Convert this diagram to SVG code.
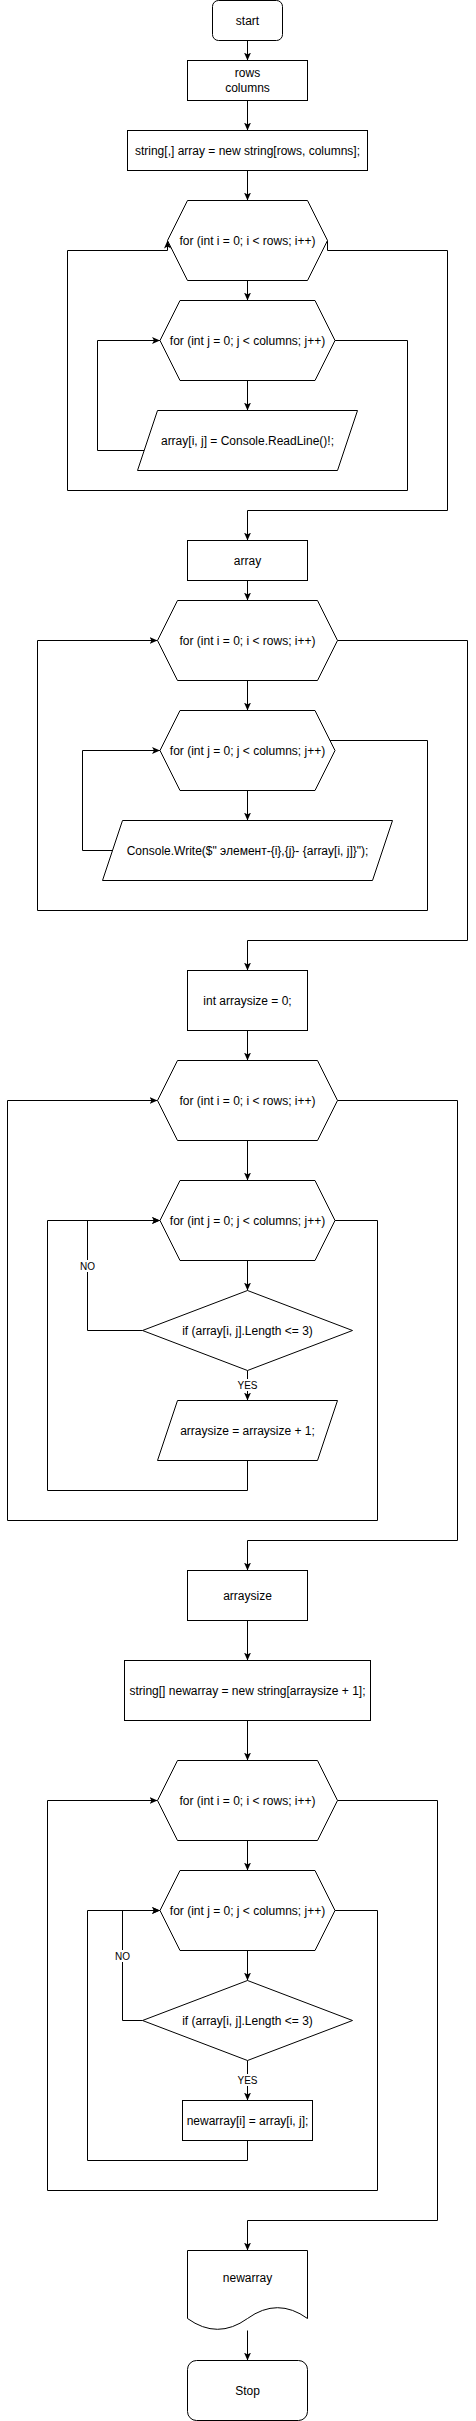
<svg xmlns="http://www.w3.org/2000/svg" width="476" height="2421" viewBox="0 0 476 2421">
<style>
.s{fill:#fff;stroke:#000;stroke-width:1}
.t{font-family:"Liberation Sans",Arial,Helvetica,sans-serif;font-size:12px;fill:#000;text-anchor:middle}
.l{font-family:"Liberation Sans",Arial,Helvetica,sans-serif;font-size:10px;fill:#000;text-anchor:middle}
.c{fill:none;stroke:#000;stroke-width:1;marker-end:url(#a)}
.n{fill:none;stroke:#000;stroke-width:1}
.lb{fill:#fff;stroke:none}
</style>
<defs>
<marker id="a" markerUnits="userSpaceOnUse" viewBox="0 0 8 8" markerWidth="8" markerHeight="8" refX="8" refY="4" orient="auto">
<path d="M0,0.5 L8,4 L0,7.5 L2,4 Z" fill="#000"/>
</marker>
</defs>
<rect width="476" height="2421" fill="#fff"/>
<g id="connectors">
<path class="c" d="M247.5,40.5 V60.5"/>
<path class="c" d="M247.5,100.5 V130.5"/>
<path class="c" d="M247.5,170.5 V200.5"/>
<path class="c" d="M247.5,280.5 V300.5"/>
<path class="c" d="M247.5,380.5 V410.5"/>
<path class="c" d="M144.3,450.5 H97.5 V340.5 H160"/>
<path class="c" d="M335,340.5 H407.5 V490.5 H67.5 V250.5 H167.5 V240.5"/>
<path class="c" d="M327.5,240.5 V250.5 H447.5 V510.5 H247.5 V540.5"/>
<path class="c" d="M247.5,580.5 V600.5"/>
<path class="c" d="M247.5,680.5 V710.5"/>
<path class="c" d="M247.5,790.5 V820.5"/>
<path class="c" d="M112.5,850.5 H82.5 V750.5 H160"/>
<path class="c" d="M330,740.5 H427.5 V910.5 H37.5 V640.5 H157.5"/>
<path class="c" d="M337.5,640.5 H467.5 V940.5 H247.5 V970.5"/>
<path class="c" d="M247.5,1030.5 V1060.5"/>
<path class="c" d="M247.5,1140.5 V1180.5"/>
<path class="c" d="M247.5,1260.5 V1290.5"/>
<path class="c" d="M247.5,1370.5 V1400.5"/>
<path class="c" d="M142.5,1330.5 H87.5 V1220.5 H160"/>
<path class="c" d="M247.5,1460.5 V1490.5 H47.5 V1220.5 H160"/>
<path class="c" d="M335,1220.5 H377.5 V1520.5 H7.5 V1100.5 H157.5"/>
<path class="c" d="M337.5,1100.5 H457.5 V1540.5 H247.5 V1570.5"/>
<path class="c" d="M247.5,1620.5 V1660.5"/>
<path class="c" d="M247.5,1720.5 V1760.5"/>
<path class="c" d="M247.5,1840.5 V1870.5"/>
<path class="c" d="M247.5,1950.5 V1980.5"/>
<path class="c" d="M247.5,2060.5 V2100.5"/>
<path class="c" d="M142.5,2020.5 H122.5 V1910.5 H160"/>
<path class="c" d="M247.5,2140.5 V2160.5 H87.5 V1910.5 H160"/>
<path class="c" d="M335,1910.5 H377.5 V2190.5 H47.5 V1800.5 H157.5"/>
<path class="c" d="M337.5,1800.5 H437.5 V2220.5 H247.5 V2250.5"/>
<path class="c" d="M247.5,2330.5 V2360.5"/>
<rect class="lb" x="78" y="1260" width="19" height="12"/>
<text class="l" x="87.5" y="1269.5">NO</text>
<rect class="lb" x="236" y="1379" width="23" height="12"/>
<text class="l" x="247.5" y="1388.5">YES</text>
<rect class="lb" x="113" y="1950" width="19" height="12"/>
<text class="l" x="122.5" y="1959.5">NO</text>
<rect class="lb" x="236" y="2074" width="23" height="12"/>
<text class="l" x="247.5" y="2083.5">YES</text>
</g>
<g id="start">
<rect class="s" x="212.5" y="0.5" width="70" height="40" rx="6" ry="6"/>
<text class="t" x="247.5" y="24.5">start</text>
</g>
<g id="input-rows-columns">
<rect class="s" x="187.5" y="60.5" width="120" height="40"/>
<text class="t" x="247.5" y="77">rows</text>
<text class="t" x="247.5" y="92">columns</text>
</g>
<g id="declare-array">
<rect class="s" x="127.5" y="130.5" width="240" height="40"/>
<text class="t" x="247.5" y="154.5">string[,] array = new string[rows, columns];</text>
</g>
<g id="loop-i-1">
<polygon class="s" points="187.5,200.5 307.5,200.5 327.5,240.5 307.5,280.5 187.5,280.5 167.5,240.5"/>
<text class="t" x="247.5" y="244.5">for (int i = 0; i &lt; rows; i++)</text>
</g>
<g id="loop-j-1">
<polygon class="s" points="180,300.5 315,300.5 335,340.5 315,380.5 180,380.5 160,340.5"/>
<text class="t" x="247.5" y="344.5">for (int j = 0; j &lt; columns; j++)</text>
</g>
<g id="read-line">
<polygon class="s" points="157.5,410.5 357.5,410.5 337.5,470.5 137.5,470.5"/>
<text class="t" x="247.5" y="444.5">array[i, j] = Console.ReadLine()!;</text>
</g>
<g id="array-out">
<rect class="s" x="187.5" y="540.5" width="120" height="40"/>
<text class="t" x="247.5" y="564.5">array</text>
</g>
<g id="loop-i-2">
<polygon class="s" points="177.5,600.5 317.5,600.5 337.5,640.5 317.5,680.5 177.5,680.5 157.5,640.5"/>
<text class="t" x="247.5" y="644.5">for (int i = 0; i &lt; rows; i++)</text>
</g>
<g id="loop-j-2">
<polygon class="s" points="180,710.5 315,710.5 335,750.5 315,790.5 180,790.5 160,750.5"/>
<text class="t" x="247.5" y="754.5">for (int j = 0; j &lt; columns; j++)</text>
</g>
<g id="write">
<polygon class="s" points="122.5,820.5 392.5,820.5 372.5,880.5 102.5,880.5"/>
<text class="t" x="247.5" y="854.5">Console.Write($" элемент-{i},{j}- {array[i, j]}");</text>
</g>
<g id="arraysize-init">
<rect class="s" x="187.5" y="970.5" width="120" height="60"/>
<text class="t" x="247.5" y="1004.5">int arraysize = 0;</text>
</g>
<g id="loop-i-3">
<polygon class="s" points="177.5,1060.5 317.5,1060.5 337.5,1100.5 317.5,1140.5 177.5,1140.5 157.5,1100.5"/>
<text class="t" x="247.5" y="1104.5">for (int i = 0; i &lt; rows; i++)</text>
</g>
<g id="loop-j-3">
<polygon class="s" points="180,1180.5 315,1180.5 335,1220.5 315,1260.5 180,1260.5 160,1220.5"/>
<text class="t" x="247.5" y="1224.5">for (int j = 0; j &lt; columns; j++)</text>
</g>
<g id="if-1">
<polygon class="s" points="247.5,1290.5 352.5,1330.5 247.5,1370.5 142.5,1330.5"/>
<text class="t" x="247.5" y="1334.5">if (array[i, j].Length &lt;= 3)</text>
</g>
<g id="increment">
<polygon class="s" points="177.5,1400.5 337.5,1400.5 317.5,1460.5 157.5,1460.5"/>
<text class="t" x="247.5" y="1434.5">arraysize = arraysize + 1;</text>
</g>
<g id="arraysize-out">
<rect class="s" x="187.5" y="1570.5" width="120" height="50"/>
<text class="t" x="247.5" y="1599.5">arraysize</text>
</g>
<g id="declare-newarray">
<rect class="s" x="124.5" y="1660.5" width="246" height="60"/>
<text class="t" x="247.5" y="1694.5">string[] newarray = new string[arraysize + 1];</text>
</g>
<g id="loop-i-4">
<polygon class="s" points="177.5,1760.5 317.5,1760.5 337.5,1800.5 317.5,1840.5 177.5,1840.5 157.5,1800.5"/>
<text class="t" x="247.5" y="1804.5">for (int i = 0; i &lt; rows; i++)</text>
</g>
<g id="loop-j-4">
<polygon class="s" points="180,1870.5 315,1870.5 335,1910.5 315,1950.5 180,1950.5 160,1910.5"/>
<text class="t" x="247.5" y="1914.5">for (int j = 0; j &lt; columns; j++)</text>
</g>
<g id="if-2">
<polygon class="s" points="247.5,1980.5 352.5,2020.5 247.5,2060.5 142.5,2020.5"/>
<text class="t" x="247.5" y="2024.5">if (array[i, j].Length &lt;= 3)</text>
</g>
<g id="assign">
<rect class="s" x="182.5" y="2100.5" width="130" height="40"/>
<text class="t" x="247.5" y="2124.5">newarray[i] = array[i, j];</text>
</g>
<g id="newarray-out">
<path class="s" d="M187.5,2250.5 H307.5 V2318.5 Q277.5,2296.9 247.5,2318.5 Q217.5,2340.1 187.5,2318.5 Z"/>
<text class="t" x="247.5" y="2282">newarray</text>
</g>
<g id="stop">
<rect class="s" x="187.5" y="2360.5" width="120" height="60" rx="9" ry="9"/>
<text class="t" x="247.5" y="2394.5">Stop</text>
</g>
</svg>
